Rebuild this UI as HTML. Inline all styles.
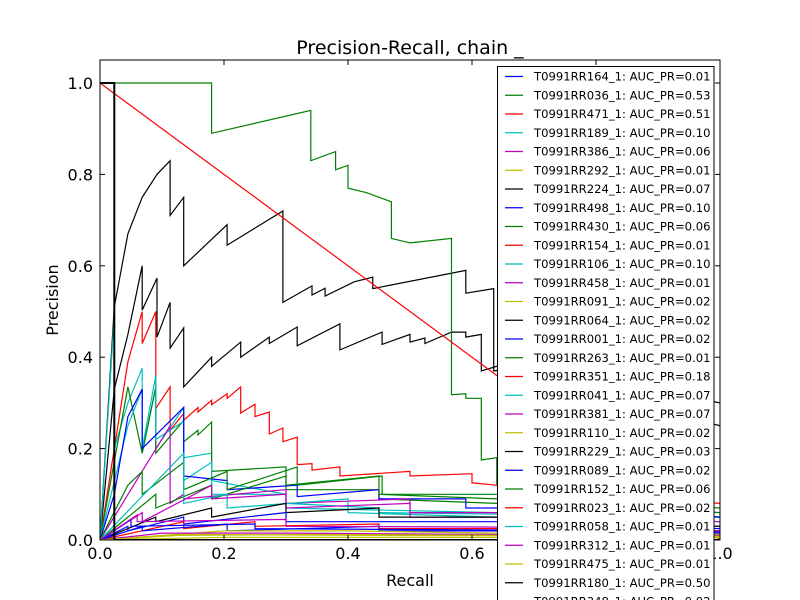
<!DOCTYPE html>
<html><head><meta charset="utf-8">
<style>
html,body{margin:0;padding:0;background:#fff;}
svg{display:block;font-family:"DejaVu Sans","Liberation Sans",sans-serif;}
</style></head>
<body>
<svg id="chart" width="800" height="600" viewBox="0 0 800 600" xmlns="http://www.w3.org/2000/svg">
<rect x="0" y="0" width="800" height="600" fill="#fff"/>
<defs><clipPath id="plotclip"><rect x="100" y="60" width="620" height="480"/></clipPath></defs>
<text x="410" y="54" font-size="19" text-anchor="middle">Precision-Recall, chain _</text>
<text x="410" y="586" font-size="16" text-anchor="middle">Recall</text>
<text x="58" y="300" font-size="16" text-anchor="middle" transform="rotate(-90 58 300)">Precision</text>
<g id="series" clip-path="url(#plotclip)"></g>
<rect x="100" y="60" width="620" height="480" fill="none" stroke="#000" stroke-width="1"/>
<g id="ticks"></g>
<g id="legend"></g>
</svg>
<script>
const xTicks = [0.0, 0.2, 0.4, 0.6, 0.8, 1.0];
const yTicks = [0.0, 0.2, 0.4, 0.6, 0.8, 1.0];
const legendNames = ["T0991RR164_1","T0991RR036_1","T0991RR471_1","T0991RR189_1","T0991RR386_1","T0991RR292_1","T0991RR224_1","T0991RR498_1","T0991RR430_1","T0991RR154_1","T0991RR106_1","T0991RR458_1","T0991RR091_1","T0991RR064_1","T0991RR001_1","T0991RR263_1","T0991RR351_1","T0991RR041_1","T0991RR381_1","T0991RR110_1","T0991RR229_1","T0991RR089_1","T0991RR152_1","T0991RR023_1","T0991RR058_1","T0991RR312_1","T0991RR475_1","T0991RR180_1","T0991RR348_1"];
const aucValues = [0.01,0.53,0.51,0.10,0.06,0.01,0.07,0.10,0.06,0.01,0.10,0.01,0.02,0.02,0.02,0.01,0.18,0.07,0.07,0.02,0.03,0.02,0.06,0.02,0.01,0.01,0.01,0.50,0.02];
const palette = ["#0000ff","#008000","#ff0000","#00bfbf","#bf00bf","#bfbf00","#000000"];

const rec036 = [0,0.18,0.18,0.34,0.34,0.38,0.38,0.40,0.40,0.43,0.45,0.47,0.47,0.50,0.567,0.567,0.59,0.59,0.615,0.615,0.64,0.64,0.70,0.70,1.0];
const prec036 = [1,1,0.89,0.94,0.83,0.85,0.81,0.82,0.77,0.76,0.75,0.74,0.66,0.65,0.66,0.318,0.32,0.31,0.31,0.175,0.18,0.12,0.12,0.08,0.05];
const rec471 = [0,1];
const prec471 = [1,0];
const rec180 = [0,0.023,0.023,0.03,1.0];
const prec180 = [1,1,0,0,0];
const rec224 = [0,0.023,0.045,0.068,0.092,0.113,0.113,0.135,0.135,0.205,0.205,0.295,0.295,0.342,0.342,0.363,0.363,0.41,0.44,0.44,0.59,0.59,0.635,0.635,0.70,1.0];
const prec224 = [0,0.51,0.67,0.75,0.80,0.83,0.71,0.75,0.60,0.69,0.645,0.72,0.52,0.556,0.536,0.551,0.534,0.565,0.575,0.55,0.59,0.54,0.55,0.37,0.38,0.30];
const rec064 = [0,0.023,0.045,0.068,0.068,0.092,0.092,0.113,0.113,0.135,0.135,0.18,0.18,0.227,0.227,0.273,0.273,0.318,0.318,0.387,0.387,0.455,0.455,0.50,0.50,0.524,0.524,0.567,0.59,0.59,0.615,0.615,0.64,1.0];
const prec064 = [0,0.33,0.45,0.60,0.503,0.573,0.444,0.52,0.42,0.464,0.335,0.40,0.38,0.433,0.40,0.444,0.43,0.466,0.425,0.473,0.416,0.455,0.428,0.45,0.433,0.442,0.43,0.455,0.455,0.444,0.45,0.37,0.38,0.25];
const rec351 = [0,0.045,0.068,0.068,0.09,0.09,0.113,0.113,0.135,0.135,0.158,0.158,0.18,0.18,0.205,0.205,0.227,0.227,0.25,0.25,0.273,0.273,0.295,0.295,0.318,0.318,0.342,0.342,0.387,0.387,0.50,0.50,0.60,0.60,0.64,1.0];
const prec351 = [0,0.39,0.50,0.43,0.50,0.288,0.335,0.24,0.277,0.262,0.29,0.28,0.306,0.296,0.32,0.31,0.335,0.278,0.297,0.27,0.28,0.232,0.245,0.215,0.225,0.165,0.167,0.153,0.16,0.14,0.15,0.14,0.145,0.125,0.12,0.08];
const rec106 = [0,0.023,0.023,0.045,0.068,0.068,0.09,0.09,0.135,0.135,0.18,0.18,0.30,0.30,0.45,0.45,1.0];
const prec106 = [0,0.49,0.20,0.30,0.376,0.19,0.335,0.20,0.29,0.18,0.19,0.13,0.10,0.08,0.07,0.06,0.05];
const rec263 = [0,0.045,0.068,0.068,0.09,0.09,0.135,0.135,0.158,0.158,0.18,0.18,0.30,0.30,0.45,0.45,0.64,1.0];
const prec263 = [0,0.335,0.19,0.19,0.335,0.19,0.262,0.215,0.24,0.23,0.258,0.15,0.16,0.11,0.11,0.09,0.08,0.05];
const rec189 = [0,0.045,0.068,0.068,0.09,0.09,0.135,0.135,0.18,0.18,0.30,0.30,0.64,1.0];
const prec189 = [0,0.25,0.33,0.20,0.36,0.22,0.26,0.13,0.17,0.10,0.10,0.07,0.06,0.04];
const rec498 = [0,0.023,0.045,0.068,0.068,0.135,0.135,0.205,0.205,0.318,0.318,0.45,0.45,0.59,0.59,0.64,1.0];
const prec498 = [0,0.10,0.27,0.33,0.20,0.29,0.14,0.13,0.11,0.12,0.095,0.11,0.09,0.09,0.07,0.07,0.05];
const rec386 = [0,0.113,0.113,0.135,0.135,0.30,0.30,0.50,0.50,0.64,1.0];
const prec386 = [0,0.25,0.08,0.10,0.09,0.11,0.08,0.09,0.06,0.06,0.04];
const rec430 = [0,0.045,0.068,0.068,0.135,0.135,0.205,0.205,0.318,0.318,0.455,0.455,0.64,1.0];
const prec430 = [0,0.12,0.15,0.10,0.17,0.11,0.15,0.11,0.16,0.12,0.14,0.10,0.10,0.07];
const rec152 = [0,0.09,0.09,0.18,0.18,0.30,0.30,0.45,0.45,0.64,1.0];
const prec152 = [0,0.10,0.07,0.12,0.09,0.14,0.12,0.14,0.10,0.09,0.06];
const rec041 = [0,0.135,0.135,0.205,0.205,0.40,0.40,0.64,1.0];
const prec041 = [0,0.19,0.08,0.10,0.07,0.09,0.06,0.05,0.03];
const rec381 = [0,0.068,0.068,0.18,0.18,0.30,0.30,0.50,0.50,0.64,1.0];
const prec381 = [0,0.06,0.04,0.12,0.09,0.10,0.07,0.08,0.05,0.05,0.03];
const rec229 = [0,0.09,0.09,0.18,0.18,0.30,0.30,0.45,0.45,0.64,1.0];
const prec229 = [0,0.05,0.04,0.07,0.05,0.08,0.06,0.07,0.05,0.05,0.03];
const rec089 = [0,0.045,0.045,0.135,0.135,0.30,0.30,0.64,1.0];
const prec089 = [0,0.03,0.02,0.05,0.035,0.06,0.04,0.04,0.025];
const rec023 = [0,0.135,0.135,0.25,0.25,0.45,0.45,0.64,1.0];
const prec023 = [0,0.04,0.025,0.04,0.03,0.035,0.025,0.025,0.02];
const rec001 = [0,0.068,0.068,0.205,0.205,0.45,0.45,0.64,1.0];
const prec001 = [0,0.03,0.02,0.035,0.02,0.03,0.02,0.02,0.015];
const rec110 = [0,0.20,0.40,0.64,1.0];
const prec110 = [0,0.02,0.02,0.015,0.012];
const rec312 = [0,0.10,0.30,0.64,1.0];
const prec312 = [0,0.015,0.015,0.012,0.01];
const rec091 = [0,0.15,0.45,1.0];
const prec091 = [0,0.012,0.01,0.008];
const rec164 = [0,0.05,0.05,0.25,0.25,0.6,1.0];
const prec164 = [0,0.045,0.03,0.035,0.025,0.022,0.018];
const rec292 = [0,0.12,0.35,0.7,1.0];
const prec292 = [0,0.01,0.012,0.01,0.008];
const rec458 = [0,0.06,0.06,0.3,0.3,0.7,1.0];
const prec458 = [0,0.055,0.04,0.045,0.03,0.028,0.02];
const rec475 = [0,0.2,0.5,1.0];
const prec475 = [0,0.006,0.006,0.005];

const seriesList = [
  [rec064, prec064, 13], [rec224, prec224, 6], [rec036, prec036, 1], [rec471, prec471, 2],
  [rec351, prec351, 16], [rec106, prec106, 10], [rec263, prec263, 15], [rec189, prec189, 3],
  [rec498, prec498, 7], [rec386, prec386, 4], [rec430, prec430, 8], [rec152, prec152, 22],
  [rec041, prec041, 17], [rec381, prec381, 18], [rec229, prec229, 20], [rec089, prec089, 21],
  [rec023, prec023, 23], [rec001, prec001, 14], [rec110, prec110, 19], [rec312, prec312, 25],
  [rec091, prec091, 12], [rec164, prec164, 0], [rec292, prec292, 5], [rec458, prec458, 11],
  [rec475, prec475, 26], [rec180, prec180, 27]
];

const NS = "http://www.w3.org/2000/svg";
const X0 = 100, XW = 620, Y0 = 540, YH = 457;
function xScale(v){ return X0 + v * XW; }
function yScale(v){ return Y0 - v * YH; }

const gS = document.getElementById('series');
seriesList.forEach(function(s){
  const xs = s[0], ys = s[1], idx = s[2];
  const pts = xs.map(function(x,i){ return xScale(x).toFixed(1) + ',' + yScale(ys[i]).toFixed(1); }).join(' ');
  const pl = document.createElementNS(NS, 'polyline');
  pl.setAttribute('points', pts);
  pl.setAttribute('fill', 'none');
  pl.setAttribute('stroke', palette[idx % 7]);
  pl.setAttribute('stroke-width', idx === 27 ? '2' : '1.2');
  
  
  gS.appendChild(pl);
});

const gT = document.getElementById('ticks');
xTicks.forEach(function(t){
  const x = xScale(t);
  [[Y0, Y0-5],[60, 65]].forEach(function(p){
    const l = document.createElementNS(NS,'line');
    l.setAttribute('x1', x); l.setAttribute('x2', x); l.setAttribute('y1', p[0]); l.setAttribute('y2', p[1]);
    l.setAttribute('stroke', '#000');
    
    
    gT.appendChild(l);
  });
  const tx = document.createElementNS(NS,'text');
  tx.setAttribute('x', x); tx.setAttribute('y', 559);
  tx.setAttribute('font-size', '16'); tx.setAttribute('text-anchor', 'middle');
  tx.textContent = t.toFixed(1);
  
  
  gT.appendChild(tx);
});
yTicks.forEach(function(t){
  const y = yScale(t);
  [[X0, X0+5],[720, 715]].forEach(function(p){
    const l = document.createElementNS(NS,'line');
    l.setAttribute('x1', p[0]); l.setAttribute('x2', p[1]); l.setAttribute('y1', y); l.setAttribute('y2', y);
    l.setAttribute('stroke', '#000');
    
    
    gT.appendChild(l);
  });
  const tx = document.createElementNS(NS,'text');
  tx.setAttribute('x', 93); tx.setAttribute('y', y + 6);
  tx.setAttribute('font-size', '16'); tx.setAttribute('text-anchor', 'end');
  tx.textContent = t.toFixed(1);
  
  
  gT.appendChild(tx);
});

const gL = document.getElementById('legend');
const box = document.createElementNS(NS,'rect');
box.setAttribute('x', 497.5); box.setAttribute('y', 66.5); box.setAttribute('width', 216.5); box.setAttribute('height', 560);
box.setAttribute('fill', '#fff'); box.setAttribute('stroke', '#000');


gL.appendChild(box);
legendNames.forEach(function(n, i){
  const y = 76.5 + i * 18.75;
  const l = document.createElementNS(NS,'line');
  l.setAttribute('x1', 505); l.setAttribute('x2', 523); l.setAttribute('y1', y); l.setAttribute('y2', y);
  l.setAttribute('stroke', palette[i % 7]); l.setAttribute('stroke-width', '1.2');
  
  
  gL.appendChild(l);
  const tx = document.createElementNS(NS,'text');
  tx.setAttribute('x', 534); tx.setAttribute('y', y + 4);
  tx.setAttribute('font-size', '11.6');
  tx.textContent = n + ': AUC_PR=' + aucValues[i].toFixed(2);
  
  
  gL.appendChild(tx);
});
</script>
</body></html>
